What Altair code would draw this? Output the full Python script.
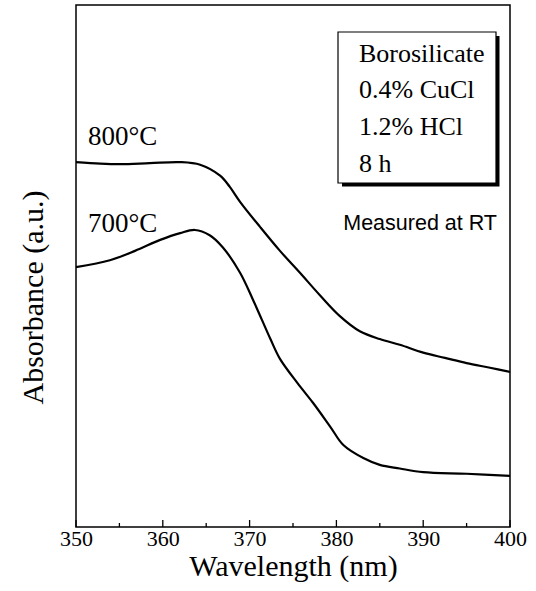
import altair as alt
import pandas as pd

# Wavelength (nm) and absorbance (a.u.)
wl_800 = [350.0, 352.8, 355.1, 358.5, 362.0, 364.3, 366.6, 367.7, 368.9, 371.2,
          373.5, 375.8, 378.1, 380.4, 382.7, 385.0, 387.3, 390.0, 392.5, 395.0,
          397.7, 400.0]
abs_800 = [0.699, 0.696, 0.695, 0.697, 0.699, 0.694, 0.673, 0.652, 0.623, 0.575,
           0.529, 0.487, 0.444, 0.404, 0.375, 0.360, 0.349, 0.334, 0.324, 0.314,
           0.305, 0.297]

wl_700 = [350.0, 353.9, 356.8, 359.7, 362.0, 363.7, 365.4, 366.9, 368.9, 370.4,
          372.4, 373.5, 375.5, 377.3, 379.3, 380.8, 383.1, 385.0, 387.3, 390.0,
          395.0, 400.0]
abs_700 = [0.498, 0.511, 0.529, 0.550, 0.563, 0.569, 0.559, 0.536, 0.487, 0.435,
           0.360, 0.322, 0.276, 0.238, 0.192, 0.157, 0.132, 0.119, 0.112, 0.105,
           0.102, 0.098]

major_ticks = [350, 360, 370, 380, 390, 400]
minor_ticks = [355, 365, 375, 385, 395]

series_labels = ["800\u00b0C", "700\u00b0C"]
box_lines = ["Borosilicate", "0.4% CuCl", "1.2% HCl", "8 h"]
note_text = "Measured at RT"

serif = "Liberation Serif"
sans = "Liberation Sans"

df = pd.concat([
    pd.DataFrame({"wl": wl_800, "a": abs_800, "s": series_labels[0]}),
    pd.DataFrame({"wl": wl_700, "a": abs_700, "s": series_labels[1]}),
])

xscale = alt.Scale(domain=[350, 400], nice=False, zero=False)
yscale = alt.Scale(domain=[0, 1], nice=False, zero=False)

lines = alt.Chart(df).mark_line(color="black", strokeWidth=2.2, interpolate="catmull-rom").encode(
    x=alt.X("wl:Q", scale=xscale,
            axis=alt.Axis(values=major_ticks, format="d", ticks=False, domain=False, grid=False,
                          labelFont=serif, labelFontSize=22, labelColor="black",
                          labelPadding=1, labelFlush=False,
                          title="Wavelength (nm)", titleFont=serif, titleFontSize=30,
                          titleFontWeight="normal", titleColor="black", titlePadding=2)),
    y=alt.Y("a:Q", scale=yscale,
            axis=alt.Axis(labels=False, ticks=False, domain=False, grid=False,
                          title="Absorbance (a.u.)", titleFont=serif, titleFontSize=30,
                          titleFontWeight="normal", titleColor="black",
                          titleX=-34, titleY=292, titleBaseline="alphabetic")),
    detail="s:N",
)

major = alt.Chart(pd.DataFrame({"t": major_ticks})).mark_rule(color="black", strokeWidth=1.3).encode(
    x=alt.X("t:Q", scale=xscale), y=alt.value(522), y2=alt.value(515))
minor = alt.Chart(pd.DataFrame({"t": minor_ticks})).mark_rule(color="black", strokeWidth=1.3).encode(
    x=alt.X("t:Q", scale=xscale), y=alt.value(522), y2=alt.value(518))

lab800 = alt.Chart(pd.DataFrame({"t": [series_labels[0]]})).mark_text(
    font=serif, fontSize=27, align="left", baseline="alphabetic", color="black").encode(
    text="t:N", x=alt.value(12), y=alt.value(140))
lab700 = alt.Chart(pd.DataFrame({"t": [series_labels[1]]})).mark_text(
    font=serif, fontSize=27, align="left", baseline="alphabetic", color="black").encode(
    text="t:N", x=alt.value(12), y=alt.value(227))

one = pd.DataFrame({"k": [0]})
shadow = alt.Chart(one).mark_rect(fill="black").encode(
    x=alt.value(266), x2=alt.value(423.5), y=alt.value(31), y2=alt.value(181.5))
box = alt.Chart(one).mark_rect(fill="white", stroke="black", strokeWidth=1.2).encode(
    x=alt.value(262), x2=alt.value(420), y=alt.value(27), y2=alt.value(178))

box_df = pd.DataFrame({"t": box_lines, "yy": [57, 93, 130, 167]})
box_text = alt.Chart(box_df).mark_text(
    font=serif, fontSize=26, align="left", baseline="alphabetic", color="black").encode(
    text="t:N", x=alt.value(283), y=alt.Y("yy:Q", scale=None))

note = alt.Chart(pd.DataFrame({"t": [note_text]})).mark_text(
    font=sans, fontSize=21.5, align="right", baseline="alphabetic", color="black").encode(
    text="t:N", x=alt.value(421), y=alt.value(225))

chart = alt.layer(lines, major, minor, lab800, lab700, shadow, box, box_text, note).properties(
    width=434, height=522,
    autosize=alt.AutoSizeParams(type="none"),
    padding={"left": 76, "top": 5, "right": 26, "bottom": 64},
    background="white",
).configure_view(stroke="black", strokeWidth=1.5)

chart.save("out.html", embed_options={"renderer": "svg", "actions": False})
